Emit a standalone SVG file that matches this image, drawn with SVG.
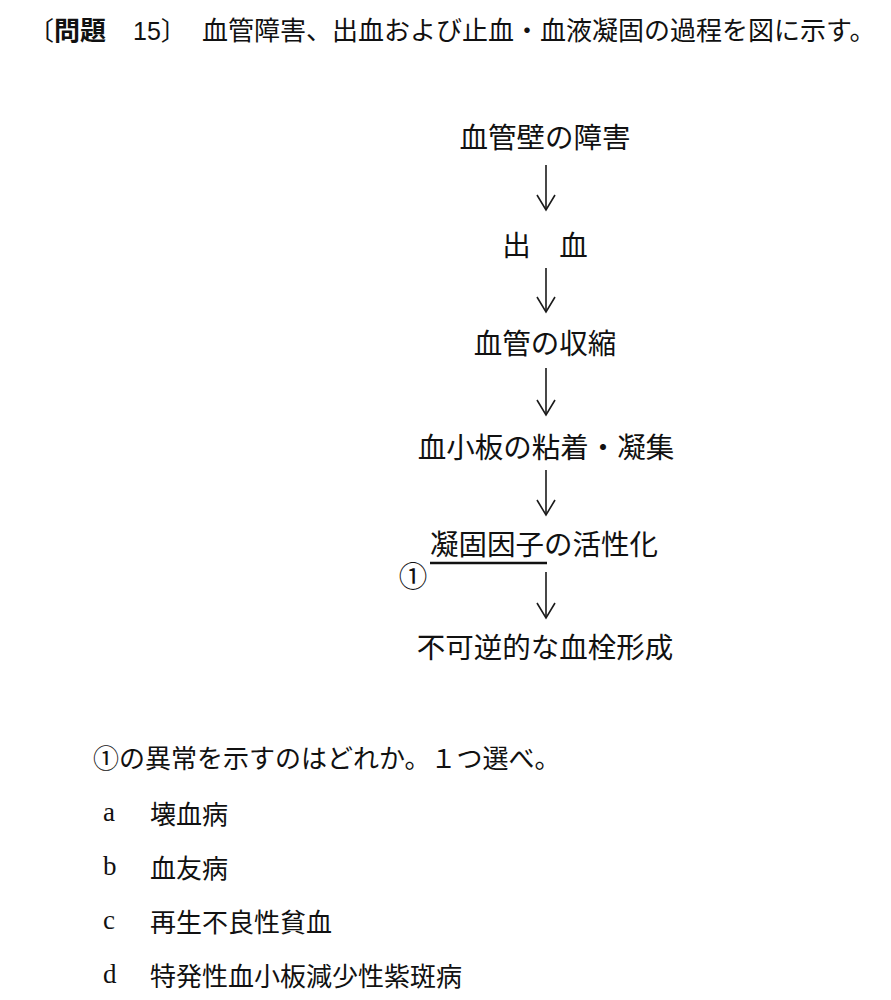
<svg xmlns="http://www.w3.org/2000/svg" width="891" height="1000" viewBox="0 0 891 1000">
  <style>
    .jp { font-family: "Liberation Serif", "Noto Sans CJK JP", serif; fill: #111; }
    .goth { font-family: "Liberation Sans", "Noto Sans CJK JP", sans-serif; fill: #111; }
    .title { font-size: 26px; }
    .node { font-size: 28.5px; text-anchor: middle; }
    .q { font-size: 26px; }
    .lat { font-size: 27px; }
    .conn { stroke: #1a1a1a; stroke-width: 1.6; fill: none; }
  </style>
  <defs>
    <marker id="arrow" markerUnits="userSpaceOnUse" markerWidth="20" markerHeight="24" refX="16" refY="10" orient="auto" viewBox="0 0 20 20">
      <path d="M1,1 L16,10 L1,19" fill="none" stroke="#1a1a1a" stroke-width="1.6"/>
    </marker>
  </defs>
  <rect width="891" height="1000" fill="#fff"/>

  <g id="title">
    <text class="goth title" y="40"><tspan x="28">〔</tspan><tspan font-weight="bold">問題</tspan><tspan x="133" font-size="25">15</tspan><tspan>〕</tspan></text>
    <text class="jp title" x="202" y="40">血管障害、出血および止血・血液凝固の過程を図に示す。</text>
  </g>

  <g id="node1"><text class="jp node" x="545" y="148">血管壁の障害</text></g>
  <g id="node2"><text class="jp node" x="545" y="256">出　血</text></g>
  <g id="node3"><text class="jp node" x="545" y="354">血管の収縮</text></g>
  <g id="node4"><text class="jp node" x="546" y="458">血小板の粘着・凝集</text></g>
  <g id="node5">
    <text class="jp node" x="544" y="555">凝固因子の活性化</text>
    <line x1="430" y1="563" x2="547" y2="563" stroke="#111" stroke-width="2.5"/>
    <text class="jp node" x="413" y="587">①</text>
  </g>
  <g id="node6"><text class="jp node" x="545" y="658">不可逆的な血栓形成</text></g>

  <g id="connectors">
    <line class="conn" x1="546" y1="165" x2="546" y2="210" marker-end="url(#arrow)"/>
    <line class="conn" x1="546" y1="268" x2="546" y2="312" marker-end="url(#arrow)"/>
    <line class="conn" x1="546" y1="368" x2="546" y2="415" marker-end="url(#arrow)"/>
    <line class="conn" x1="546" y1="470" x2="546" y2="515" marker-end="url(#arrow)"/>
    <line class="conn" x1="546" y1="572" x2="546" y2="618" marker-end="url(#arrow)"/>
  </g>

  <g id="question">
    <text class="jp q" x="93" y="768">①の異常を示すのはどれか。１つ選べ。</text>
    <text class="jp lat" x="103" y="821">a</text>
    <text class="jp q" x="150" y="824">壊血病</text>
    <text class="jp lat" x="103" y="875">b</text>
    <text class="jp q" x="150" y="878">血友病</text>
    <text class="jp lat" x="103" y="929">c</text>
    <text class="jp q" x="150" y="932">再生不良性貧血</text>
    <text class="jp lat" x="103" y="983">d</text>
    <text class="jp q" x="150" y="986">特発性血小板減少性紫斑病</text>
  </g>
</svg>
